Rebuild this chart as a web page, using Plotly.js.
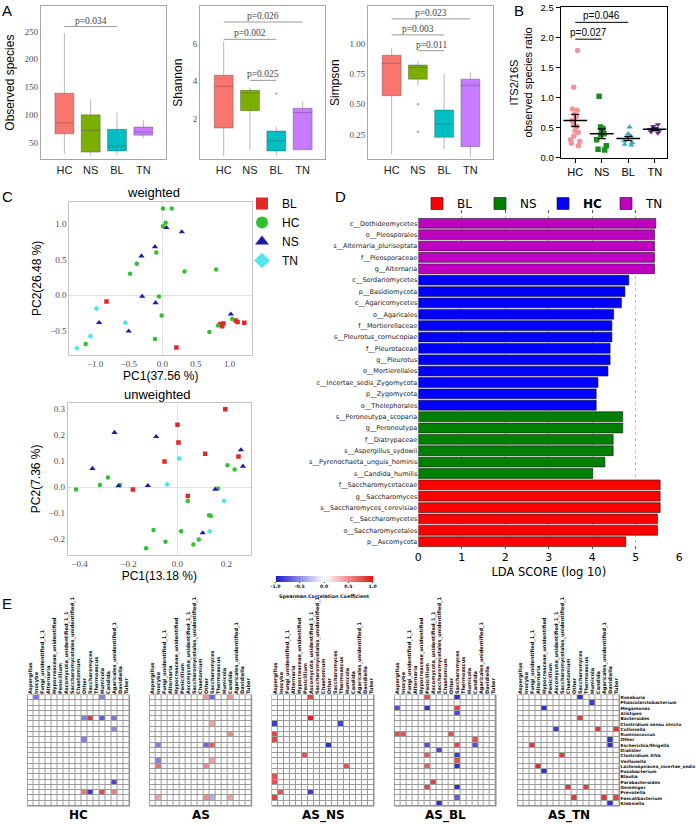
<!DOCTYPE html>
<html>
<head>
<meta charset="utf-8">
<script src="https://cdn.plot.ly/plotly-3.0.1.min.js"></script>
<style>
html,body{margin:0;padding:0;background:#ffffff;}
#chart{width:696px;height:825px;}
</style>
</head>
<body>
<div id="chart"></div>
<script>
const W=696,H=825;
const SANS='Liberation Sans, Arial, sans-serif';
const SERIF='Liberation Serif, Times New Roman, serif';
const DV='DejaVu Sans, sans-serif';

// ---------------- Panel A : alpha diversity boxes ----------------
const groups=['HC','NS','BL','TN'];
const boxColors=['#F8766D','#7CAE00','#00BFC4','#C77CFF'];
const obsQ1=[66,33,35,63.5];
const obsMedian=[85.5,72,44,69];
const obsQ3=[139,100,74,78];
const obsLow=[30,27,27,58.5];
const obsHigh=[247,129,104.6,91];
const shaQ1=[1.52,2.44,0.30,0.37];
const shaMedian=[3.73,3.38,0.84,2.34];
const shaQ3=[4.32,3.52,1.36,2.57];
const shaLow=[0.0,0.35,0.04,0.37];
const shaHigh=[6.1,3.66,1.6,2.92];
const shaOutlierGroup=['BL'];
const shaOutlierValue=[3.35];
const simQ1=[0.571,0.707,0.228,0.151];
const simMedian=[0.838,0.805,0.336,0.657];
const simQ3=[0.904,0.824,0.453,0.707];
const simLow=[0.09,0.65,0.132,0.065];
const simHigh=[0.962,0.86,0.75,0.764];
const simOutlierGroup=['NS','NS'];
const simOutlierValue=[0.50,0.275];
const obsSigPairs=[['HC','BL']];
const obsSigY=[259];
const obsSigText=['p=0.034'];
const shaSigPairs=[['HC','TN'],['HC','BL'],['NS','BL']];
const shaSigY=[7.15,6.23,4.05];
const shaSigText=['p=0.026','p=0.002','p=0.025'];
const simSigPairs=[['HC','TN'],['HC','BL'],['NS','BL']];
const simSigY=[1.204,1.072,0.942];
const simSigText=['p=0.023','p=0.003','p=0.011'];

// ---------------- Panel B : ITS2/16S ratio ----------------
const ratioHC=[1.78,1.17,0.81,0.79,0.72,0.68,0.62,0.57,0.52,0.45,0.42,0.36,0.30,0.27,0.24,0.20];
const ratioNS=[1.02,0.51,0.48,0.43,0.40,0.38,0.30,0.20,0.14,0.13];
const ratioBL=[0.51,0.40,0.36,0.33,0.28,0.25,0.22,0.21];
const ratioTN=[0.55,0.52,0.47,0.45,0.43,0.41];
const ratioSigPairs=[['HC','BL'],['HC','NS']];
const ratioSigY=[2.25,1.97];
const ratioSigText=['p=0.046','p=0.027'];

// ---------------- Panel C : PCoA ----------------
const pcoaGroups=['BL','HC','NS','TN'];
const wBLx=[-0.83,0.21,0.86,0.89,0.91,1.09,1.12,1.22];
const wBLy=[-0.09,-0.74,-0.41,-0.44,-0.40,-0.36,-0.38,-0.39];
const wHCx=[0.01,0.14,0.05,0.01,-0.09,-0.38,-0.48,0.33,0.80,-0.05,-0.01,-0.11,-1.14,0.70,0.83,1.04];
const wHCy=[1.22,1.22,1.02,0.97,0.60,0.44,0.30,0.33,0.36,-0.02,-0.29,-0.62,-0.69,-0.52,-0.43,-0.34];
const wNSx=[0.06,0.29,-0.11,-0.31,-0.30,-0.10,-0.94,-0.50,1.02];
const wNSy=[0.95,0.89,0.68,0.55,-0.02,-0.11,-0.39,-0.51,-0.27];
const wTNx=[-0.98,-0.55,-1.07,-1.27];
const wTNy=[-0.19,-0.39,-0.58,-0.75];
const uBLx=[0.195,0.0,0.004,0.113,-0.053,0.249,-0.182,0.042];
const uBLy=[0.30,0.24,0.172,0.128,0.098,0.118,-0.01,-0.035];
const uHCx=[-0.414,-0.317,-0.284,-0.235,0.204,0.233,0.165,0.042,0.129,0.136,-0.098,0.015,-0.049,0.087,0.065,-0.128];
const uHCy=[-0.01,0.008,0.037,0.008,0.084,0.068,-0.006,-0.054,-0.109,-0.112,-0.166,-0.17,-0.211,-0.202,-0.222,-0.236];
const uNSx=[-0.257,-0.087,-0.347,0.259,0.267,-0.241,-0.121,0.154,0.103];
const uNSy=[0.21,0.194,0.071,0.143,0.08,0.004,0.005,-0.009,-0.177];
const uTNx=[0.007,-0.042,0.19,0.132];
const uTNy=[0.11,0.01,-0.054,-0.171];

// ---------------- Panel D : LEfSe LDA ----------------
const ldaTNLabels=['c__Dothideomycetes','o__Pleosporales','s__Alternaria_pluriseptata','f__Pleosporaceae','g__Alternaria'];
const ldaTN=[5.46,5.43,5.43,5.43,5.43];
const ldaHCLabels=['c__Sordariomycetes','p__Basidiomycota','c__Agaricomycetes','o__Agaricales','f__Mortierellaceae','s__Pleurotus_cornucopiae','f__Pleurotaceae','g__Pleurotus','o__Mortierellales','c__Incertae_sedis_Zygomycota','p__Zygomycota','o__Thelephorales'];
const ldaHC=[4.84,4.75,4.67,4.49,4.45,4.45,4.41,4.41,4.36,4.13,4.09,4.09];
const ldaNSLabels=['s__Peroneutypa_scoparia','g__Peroneutypa','f__Diatrypaceae','s__Aspergillus_sydowii','s__Pyrenochaeta_unguis_hominis','s__Candida_humilis'];
const ldaNS=[4.70,4.70,4.48,4.48,4.29,4.01];
const ldaBLLabels=['f__Saccharomycetaceae','g__Saccharomyces','s__Saccharomyces_cerevisiae','c__Saccharomycetes','o__Saccharomycetales','p__Ascomycota'];
const ldaBL=[5.56,5.56,5.56,5.50,5.50,4.77];

// ---------------- Panel E : Spearman heatmaps ----------------
const fungi=['Aspergillus','Inocybe','Fungi_unidentified_1_1','Alternaria','Hypocreaceae_unidentified','Penicillium','Ascomycota_unidentified_1_1','Saccharomycetales_unidentified_1','Chaetomium','Other','Saccharomyces','Thermoascus','Humicola','Candida','Agaricales_unidentified_1','Davidiella','Tuber'];
const bacteria=['Roseburia','Phascolarctobacterium','Megamonas','Alistipes','Bacteroides','Clostridium sensu stricto','Collinsella','Ruminococcus','Other','Escherichia/Shigella','Dialister','Clostridium XlVa','Veillonella','Lachnospiracea_incertae_sedis','Fusobacterium','Blautia','Parabacteroides','Gemmiger','Prevotella','Faecalibacterium','Klebsiella'];
const heatNames=['HC','AS','AS_NS','AS_BL','AS_TN'];
// [row, column, rho]
const hcCells=[[0,1,-0.6],[0,12,-0.55],[4,9,-0.55],[4,10,0.85],[4,12,-0.7],[4,14,-0.6],[6,14,-0.5],[8,9,-0.55],[16,14,-0.8],[18,9,0.55],[18,10,-0.85],[18,12,0.75],[18,14,0.55]];
const asCells=[[0,9,0.45],[0,10,-0.65],[0,13,0.45],[5,10,0.4],[7,13,0.5],[9,1,-0.55],[9,9,-0.65],[9,10,0.7],[12,1,-0.55],[12,10,0.4],[13,1,0.6],[13,9,0.5],[19,1,0.4],[19,9,0.5],[19,10,-0.35],[19,13,0.4]];
const asnsCells=[[0,6,0.8],[4,6,0.95],[5,0,-0.85],[5,11,-0.8],[7,0,0.8],[8,0,0.8],[9,9,-0.9],[11,5,0.75],[13,12,0.75],[15,0,0.75],[16,0,0.75],[18,1,0.75],[18,6,-0.85],[19,0,0.8]];
const asblCells=[[0,5,0.75],[0,10,-0.9],[2,0,-0.75],[2,5,-0.9],[2,10,0.8],[3,10,-0.8],[7,0,0.75],[7,1,0.75],[7,9,0.75],[8,13,0.75],[9,5,-0.75],[9,10,0.8],[9,13,-0.75],[10,7,-0.8],[11,5,0.7],[11,10,-0.85],[12,10,0.75],[13,5,0.7],[13,10,-0.9],[16,6,0.8],[17,5,0.8],[17,10,-0.9],[19,10,-0.7],[20,7,-0.9]];
const astnCells=[[0,10,-0.9],[1,12,-0.85],[2,4,-0.9],[4,10,0.85],[6,6,-0.85],[6,13,0.85],[6,16,0.85],[8,15,-0.9],[9,2,0.85],[9,15,-0.9],[11,7,0.85],[13,3,0.9],[14,4,-0.9],[17,8,0.85],[17,11,0.85],[19,9,0.85],[19,14,0.85],[19,16,0.8],[20,15,-0.9]];
const corrTicks=[-1,-0.5,0,0.5,1];

// ---------------- helpers ----------------
function dx(a,b){return [a/W,b/W];}
function dy(t,b){return [1-b/H,1-t/H];}
function xn(i){return i===1?'x':'x'+i;}
function yn(i){return i===1?'y':'y'+i;}
function xk(i){return i===1?'xaxis':'xaxis'+i;}
function yk(i){return i===1?'yaxis':'yaxis'+i;}
function mean(a){return a.reduce((s,v)=>s+v,0)/a.length;}
function sem(a){const m=mean(a);return Math.sqrt(a.reduce((s,v)=>s+(v-m)*(v-m),0)/(a.length-1)/a.length);}

const data=[];
const shapes=[];
const annotations=[];
const layout={width:W,height:H,margin:{l:0,r:0,t:0,b:0},paper_bgcolor:'#ffffff',plot_bgcolor:'rgba(0,0,0,0)',
  boxmode:'overlay',barmode:'overlay',hovermode:false,font:{family:SANS,color:'#000'},showlegend:true};

// ---- A
function addBoxes(ax,q1,med,q3,lo,hi,outG,outV){
  groups.forEach((g,i)=>{
    data.push({type:'box',x:[g],q1:[q1[i]],median:[med[i]],q3:[q3[i]],lowerfence:[lo[i]],upperfence:[hi[i]],
      fillcolor:boxColors[i],line:{color:'rgba(70,70,70,0.38)',width:1},width:0.72,whiskerwidth:0,
      xaxis:xn(ax),yaxis:yn(ax),showlegend:false,hoverinfo:'skip'});
  });
  if(outG){data.push({type:'scatter',mode:'markers',x:outG,y:outV,marker:{size:2.5,color:'#b5b5b5'},xaxis:xn(ax),yaxis:yn(ax),showlegend:false,hoverinfo:'skip'});}
}
function addSig(ax,pairs,ys,texts,lineColor,font){
  pairs.forEach((p,i)=>{
    const a=groups.indexOf(p[0]),b=groups.indexOf(p[1]);
    shapes.push({type:'line',xref:xn(ax),yref:yn(ax),x0:a,x1:b,y0:ys[i],y1:ys[i],line:{color:lineColor,width:1}});
    annotations.push({xref:xn(ax),yref:yn(ax),x:(a+b)/2,y:ys[i],yanchor:'bottom',yshift:-1,text:texts[i],showarrow:false,font:font});
  });
}
function aAxes(ax,xd,yd,yr,tv,fmt,title){
  layout[xk(ax)]={domain:dx(xd[0],xd[1]),anchor:yn(ax),type:'category',categoryorder:'array',categoryarray:groups,range:[-0.9,3.85],
    tickmode:'array',tickvals:groups,showline:true,mirror:true,linecolor:'#a6a6a6',linewidth:1,ticks:'',showgrid:false,zeroline:false,
    tickfont:{family:SANS,size:11,color:'#1a1a1a'}};
  layout[yk(ax)]={domain:dy(yd[0],yd[1]),anchor:xn(ax),range:yr,tickmode:'array',tickvals:tv,tickformat:fmt,showline:true,mirror:true,
    linecolor:'#a6a6a6',linewidth:1,ticks:'',showgrid:false,zeroline:false,tickfont:{family:SERIF,size:9,color:'#4d4d4d'},
    title:{text:title,font:{family:SANS,size:12,color:'#000'},standoff:7}};
}
addBoxes(1,obsQ1,obsMedian,obsQ3,obsLow,obsHigh);
addBoxes(2,shaQ1,shaMedian,shaQ3,shaLow,shaHigh,shaOutlierGroup,shaOutlierValue);
addBoxes(3,simQ1,simMedian,simQ3,simLow,simHigh,simOutlierGroup,simOutlierValue);
aAxes(1,[40.7,165.7],[6,159.3],[20,296],[50,100,150,200,250],'d','Observed species');
aAxes(2,[200,325],[6,159.3],[-0.14,8.0],[2,4,6],'d','Shannon');
aAxes(3,[368,492.7],[6,159.3],[0.047,1.31],[0.25,0.5,0.75,1.0],'.2f','Simpson');
const sigFontA={family:SERIF,size:9.5,color:'#444'};
addSig(1,obsSigPairs,obsSigY,obsSigText,'#9a9a9a',sigFontA);
addSig(2,shaSigPairs,shaSigY,shaSigText,'#9a9a9a',sigFontA);
addSig(3,simSigPairs,simSigY,simSigText,'#9a9a9a',sigFontA);

// ---- B
const ratioSets=[ratioHC,ratioNS,ratioBL,ratioTN];
const ratioColors=['#f4939c','#1e8c1e','#3aa7c6','#6d2b91'];
const ratioSymbols=['circle','square','triangle-up','triangle-down'];
ratioSets.forEach((vals,i)=>{
  data.push({type:'box',x:vals.map(()=>groups[i]),y:vals,boxpoints:'all',jitter:0.9,pointpos:0,width:0.5,
    fillcolor:'rgba(0,0,0,0)',line:{width:0,color:'rgba(0,0,0,0)'},marker:{color:ratioColors[i],symbol:ratioSymbols[i],size:5.5},
    xaxis:'x4',yaxis:'y4',showlegend:false,hoverinfo:'skip'});
});
data.push({type:'scatter',mode:'markers',x:groups,y:ratioSets.map(mean),xaxis:'x4',yaxis:'y4',showlegend:false,hoverinfo:'skip',
  marker:{symbol:'line-ew-open',size:17,color:'#000',line:{color:'#000',width:1.6}},
  error_y:{type:'data',array:ratioSets.map(sem),color:'#000',thickness:1.3,width:4}});
layout.xaxis4={domain:dx(560.7,666.7),anchor:'y4',type:'category',categoryorder:'array',categoryarray:groups,range:[-0.55,3.45],
  tickmode:'array',tickvals:groups,showline:true,mirror:true,linecolor:'#000',linewidth:1,ticks:'outside',ticklen:4,tickcolor:'#000',
  showgrid:false,zeroline:false,tickfont:{family:SANS,size:11,color:'#000'}};
layout.yaxis4={domain:dy(7.3,157.7),anchor:'x4',range:[0,2.5],tickmode:'array',tickvals:[0,0.5,1,1.5,2,2.5],tickformat:'.1f',
  showline:true,mirror:true,linecolor:'#000',linewidth:1,ticks:'outside',ticklen:4,tickcolor:'#000',showgrid:false,zeroline:false,
  tickfont:{family:SANS,size:9.5,color:'#000'},title:{text:'ITS2/16S<br>observed species ratio',font:{family:SANS,size:11},standoff:5}};
addSig(4,ratioSigPairs,ratioSigY,ratioSigText,'#000',{family:SANS,size:10,color:'#000'});

// ---- C
const pcColors={BL:'#e02828',HC:'#30c030',NS:'#1c1caa',TN:'#50e6ea'};
const pcSymbols={BL:'square',HC:'circle',NS:'triangle-up',TN:'diamond'};
const pcSizes={BL:4.5,HC:4.5,NS:5.5,TN:4.5};
const wSets={BL:[wBLx,wBLy],HC:[wHCx,wHCy],NS:[wNSx,wNSy],TN:[wTNx,wTNy]};
const uSets={BL:[uBLx,uBLy],HC:[uHCx,uHCy],NS:[uNSx,uNSy],TN:[uTNx,uTNy]};
pcoaGroups.forEach((g,i)=>{
  data.push({type:'scatter',mode:'markers',name:g,x:wSets[g][0],y:wSets[g][1],xaxis:'x5',yaxis:'y5',legend:'legend',legendrank:i+1,
    marker:{color:pcColors[g],symbol:pcSymbols[g],size:pcSizes[g]},hoverinfo:'skip'});
  data.push({type:'scatter',mode:'markers',name:g,x:uSets[g][0],y:uSets[g][1],xaxis:'x6',yaxis:'y6',showlegend:false,
    marker:{color:pcColors[g],symbol:pcSymbols[g],size:pcSizes[g]},hoverinfo:'skip'});
});
function cAxes(ax,xd,yd,xr,yr,xt,yt,xtitle,ytitle){
  const base={showline:true,mirror:true,linecolor:'#c4c4c4',linewidth:1,ticks:'',showgrid:false,zeroline:true,zerolinecolor:'#e2e2e2',zerolinewidth:1,
    tickfont:{family:SERIF,size:9,color:'#4d4d4d'},tickformat:'.1f',tickmode:'array'};
  layout[xk(ax)]=Object.assign({},base,{domain:dx(xd[0],xd[1]),anchor:yn(ax),range:xr,tickvals:xt,title:{text:xtitle,font:{family:SANS,size:12},standoff:3}});
  layout[yk(ax)]=Object.assign({},base,{domain:dy(yd[0],yd[1]),anchor:xn(ax),range:yr,tickvals:yt,title:{text:ytitle,font:{family:SANS,size:12},standoff:5}});
}
cAxes(5,[69.3,252.3],[201.7,355],[-1.384,1.339],[-0.846,1.316],[-1,-0.5,0,0.5,1],[-0.5,0,0.5,1],'PC1(37.56 %)','PC2(26.48 %)');
cAxes(6,[67.7,251],[402.7,555],[-0.448,0.30],[-0.262,0.325],[-0.4,-0.2,0,0.2],[-0.2,-0.1,0,0.1,0.2,0.3],'PC1(13.18 %)','PC2(7.36 %)');
layout.legend={x:242/W,xanchor:'left',y:1-189/H,yanchor:'top',bgcolor:'rgba(0,0,0,0)',itemsizing:'constant',tracegroupgap:0,
  font:{family:SANS,size:12,color:'#000'},traceorder:'normal'};

// ---- D
const ldaSets=[['TN',ldaTNLabels,ldaTN,'#c000c0',4],['HC',ldaHCLabels,ldaHC,'#0000ff',3],['NS',ldaNSLabels,ldaNS,'#008000',2],['BL',ldaBLLabels,ldaBL,'#ff0000',1]];
const ldaAll=[].concat(ldaTNLabels,ldaHCLabels,ldaNSLabels,ldaBLLabels);
ldaSets.forEach(s=>{
  data.push({type:'bar',orientation:'h',name:s[0]==='HC'?'<b>HC</b>':s[0],y:s[1],x:s[2],xaxis:'x7',yaxis:'y7',legend:'legend2',legendrank:s[4],
    width:0.86,marker:{color:s[3],line:{color:'rgba(20,20,20,0.75)',width:0.8}},hoverinfo:'skip'});
});
layout.xaxis7={domain:dx(418.3,679.3),anchor:'y7',range:[0,6],tickmode:'array',tickvals:[0,1,2,3,4,5,6],showgrid:true,gridcolor:'#bcbcbc',
  griddash:'dot',gridwidth:1,zeroline:false,showline:false,ticks:'inside',ticklen:3,tickcolor:'#555',mirror:'ticks',
  tickfont:{family:DV,size:11,color:'#000'},title:{text:'LDA SCORE (log 10)',font:{family:DV,size:11.5},standoff:4}};
layout.yaxis7={domain:dy(210,549),anchor:'x7',type:'category',categoryorder:'array',categoryarray:ldaAll,range:[28.64,-1.17],
  tickmode:'array',tickvals:ldaAll,ticks:'',showgrid:false,zeroline:false,showline:false,tickfont:{family:DV,size:6.5,color:'#222'}};
layout.legend2={orientation:'h',x:417/W,xanchor:'left',y:1-189/H,yanchor:'top',bgcolor:'rgba(0,0,0,0)',entrywidthmode:'pixels',entrywidth:18,
  font:{family:DV,size:12,color:'#000'},traceorder:'normal'};

// ---- E
const heatCells=[hcCells,asCells,asnsCells,asblCells,astnCells];
const heatX=[[27.5,129.6],[149.6,251.7],[272,374],[394.6,496],[517.5,619.6]];
function buildZ(cells){const z=bacteria.map(()=>fungi.map(()=>0));cells.forEach(c=>{z[c[0]][c[1]]=c[2];});return z;}
heatCells.forEach((cells,k)=>{
  const ax=8+k;
  data.push({type:'heatmap',x:fungi,y:bacteria,z:buildZ(cells),coloraxis:'coloraxis',xgap:1,ygap:1,xaxis:'x'+ax,yaxis:'y'+ax,hoverinfo:'skip'});
  layout['xaxis'+ax]={domain:dx(heatX[k][0],heatX[k][1]),anchor:'y'+ax,type:'category',categoryorder:'array',categoryarray:fungi,
    range:[-0.5,16.5],side:'top',tickangle:-90,tickmode:'array',tickvals:fungi,ticks:'',showgrid:false,zeroline:false,showline:false,
    tickfont:{family:DV,size:5.0,weight:'bold',color:'#111'}};
  layout['yaxis'+ax]={domain:dy(695,806),anchor:'x'+ax,type:'category',categoryorder:'array',categoryarray:bacteria,range:[20.5,-0.5],
    tickmode:'array',tickvals:bacteria,ticks:'',showgrid:false,zeroline:false,showline:false,showticklabels:k===4,side:'right',
    tickfont:{family:DV,size:4.3,weight:'bold',color:'#111'}};
  shapes.push({type:'rect',xref:'x'+ax+' domain',yref:'y'+ax+' domain',x0:0,x1:1,y0:0,y1:1,fillcolor:'#9c9c9c',line:{color:'#8a8a8a',width:1},layer:'below'});
  annotations.push({xref:'x'+ax+' domain',yref:'y'+ax+' domain',x:0.5,y:0,yanchor:'top',yshift:0,showarrow:false,text:heatNames[k],
    font:{family:DV,size:12,weight:'bold',color:'#000'}});
});
layout.coloraxis={cmin:-1,cmax:1,colorscale:[[0,'#1a1acc'],[0.5,'#ffffff'],[1,'#d81818']],
  colorbar:{orientation:'h',x:324/W,xanchor:'center',y:1-576/H,yanchor:'top',len:97,lenmode:'pixels',thickness:6,thicknessmode:'pixels',
    xpad:0,ypad:0,outlinewidth:0,tickmode:'array',tickvals:corrTicks,ticktext:corrTicks.map(v=>v.toFixed(1)),ticks:'outside',ticklen:1,
    tickfont:{family:DV,size:4.6,weight:'bold',color:'#111'},title:{text:'Spearman Correlation Coefficient',side:'bottom',font:{family:DV,size:4.8,weight:'bold',color:'#111'}}}};

// ---- panel letters and titles
function paperText(txt,px,py,size,xa,ya){annotations.push({xref:'paper',yref:'paper',x:px/W,y:1-py/H,xanchor:xa||'left',yanchor:ya||'top',showarrow:false,text:txt,font:{family:SANS,size:size,color:'#000'}});}
paperText('A',0,0,15);
paperText('B',512,0,15);
paperText('C',0,186,15);
paperText('D',333,186,15);
paperText('E',0,593,15);
paperText('weighted',153,193,13,'center','middle');
paperText('unweighted',157,394,13,'center','middle');

layout.shapes=shapes;
layout.annotations=annotations;
Plotly.newPlot('chart',data,layout,{staticPlot:true,displayModeBar:false});
</script>
</body>
</html>
